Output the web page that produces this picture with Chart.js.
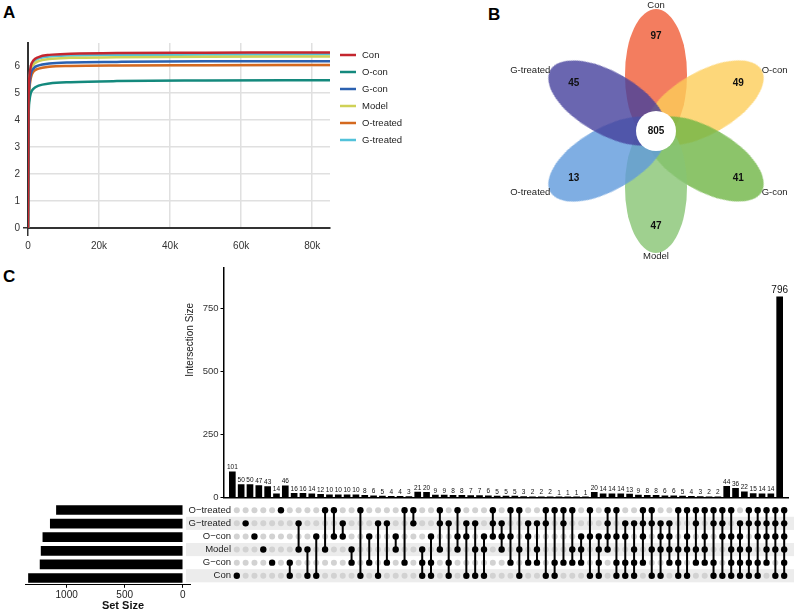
<!DOCTYPE html>
<html>
<head>
<meta charset="utf-8">
<script src="https://cdn.jsdelivr.net/npm/chart.js@4.4.1/dist/chart.umd.min.js"></script>
<style>
  html, body { margin: 0; padding: 0; background: #fff; }
  body { width: 794px; height: 612px; position: relative; overflow: hidden; font-family: "Liberation Sans", Arial, sans-serif; }
  canvas { position: absolute; }
  .tag { position: absolute; font-weight: bold; font-size: 17px; color: #000; line-height: 1; }
</style>
</head>
<body>
<div class="tag" style="left:3px;top:4px">A</div>
<div class="tag" style="left:488px;top:6px">B</div>
<div class="tag" style="left:3px;top:268px">C</div>

<canvas id="rare" style="left:0;top:30px" width="440" height="222"></canvas>
<canvas id="venn" style="left:486px;top:0" width="308" height="262"></canvas>
<canvas id="inter" style="left:150px;top:255px" width="644" height="250"></canvas>
<canvas id="matrix" style="left:150px;top:498px" width="644" height="90"></canvas>
<canvas id="setsize" style="left:0;top:495px" width="200" height="117"></canvas>

<script>
// ==============================
// A - RAREFACTION CURVES
// ==============================
const RARE_DEPTH = [0, 150, 400, 800, 1500, 3000, 6000, 12000, 25000, 50000, 85000];
const RARE_CON = [0, 4.6, 5.6, 6.0, 6.2, 6.33, 6.41, 6.45, 6.48, 6.49, 6.5];
const RARE_OCON = [0, 3.9, 4.7, 5.0, 5.15, 5.27, 5.35, 5.4, 5.44, 5.46, 5.47];
const RARE_GCON = [0, 4.3, 5.3, 5.7, 5.9, 6.02, 6.09, 6.13, 6.15, 6.17, 6.17];
const RARE_MODEL = [0, 4.4, 5.4, 5.85, 6.05, 6.18, 6.26, 6.3, 6.32, 6.34, 6.35];
const RARE_OTREATED = [0, 4.0, 5.1, 5.55, 5.78, 5.9, 5.97, 6.0, 6.02, 6.03, 6.04];
const RARE_GTREATED = [0, 4.5, 5.5, 5.95, 6.15, 6.28, 6.35, 6.39, 6.41, 6.42, 6.43];
const GROUPS = ["Con", "O-con", "G-con", "Model", "O-treated", "G-treated"];
const RARE_Y_TICKS = [0, 1, 2, 3, 4, 5, 6];
const RARE_X_TICKS = [0, 20000, 40000, 60000, 80000];

// ==============================
// B - FLOWER VENN
// ==============================
const VENN_SETS = ["Con", "O-con", "G-con", "Model", "O-treated", "G-treated"];
const VENN_UNIQUE = [97, 49, 41, 47, 13, 45];
const VENN_CORE = 805;
const VENN_ANGLE = [90, 30, -30, -90, -150, 150];

// ==============================
// C - UPSET
// ==============================
const SET_NAMES = ["O\u2212treated", "G\u2212treated", "O\u2212con", "Model", "G\u2212con", "Con"];
const SET_SIZE = [1088, 1141, 1205, 1220, 1229, 1329];
const SET_TICKS = [0, 500, 1000];
const INTER_TICKS = [0, 250, 500, 750];
const INTER_SIZE = [101, 50, 50, 47, 43, 14, 46, 16, 16, 14, 12, 10, 10, 10, 10, 8, 6, 5, 4, 4, 3,
  21, 20, 9, 9, 8, 8, 7, 7, 6, 5, 5, 5, 3, 2, 2, 2, 1, 1, 1, 1,
  20, 14, 14, 14, 13, 9, 8, 8, 6, 6, 5, 4, 3, 2, 2,
  44, 36, 22, 15, 14, 14, 796];
// row indexes into SET_NAMES for each intersection column
const INTER_SETS = [
  [5], [1], [2], [3], [4], [0],
  [4, 5], [1, 3], [3, 5], [2, 5], [0, 3], [0, 2], [1, 2], [3, 4], [0, 5], [2, 4], [1, 5], [1, 4], [2, 3], [0, 4], [0, 1],
  [3, 4, 5], [2, 4, 5], [0, 1, 3], [1, 4, 5], [0, 2, 3], [1, 2, 5], [1, 3, 5], [2, 3, 5], [0, 1, 2], [1, 2, 3],
  [0, 2, 4], [0, 3, 5], [1, 2, 4], [1, 3, 4], [0, 1, 5], [0, 4, 5], [0, 1, 4], [0, 3, 4], [2, 3, 4], [0, 2, 5],
  [2, 3, 4, 5], [0, 1, 2, 3], [0, 2, 4, 5], [1, 2, 4, 5], [1, 3, 4, 5], [0, 1, 2, 4], [0, 1, 3, 5], [1, 2, 3, 5],
  [1, 2, 3, 4], [0, 3, 4, 5], [0, 2, 3, 5], [0, 1, 3, 4], [0, 2, 3, 4], [0, 1, 4, 5], [0, 1, 2, 5],
  [0, 2, 3, 4, 5], [1, 2, 3, 4, 5], [0, 1, 3, 4, 5], [0, 1, 2, 4, 5], [0, 1, 2, 3, 4], [0, 1, 2, 3, 5],
  [0, 1, 2, 3, 4, 5]
];
const INTER_TITLE = "Intersection Size";
const SET_TITLE = "Set Size";

const FONT = '"Liberation Sans", Arial, sans-serif';
Chart.defaults.font.family = FONT;
Chart.defaults.animation = false;
Chart.defaults.responsive = false;
Chart.defaults.layout.autoPadding = false;
Chart.defaults.plugins.legend.display = false;
Chart.defaults.plugins.tooltip.enabled = false;

// ------------------------------
// A chart
// ------------------------------
const RARE_COLORS = ["#c4262e", "#14897d", "#2b61b0", "#cfd157", "#d4691f", "#52c2da"];
const RARE_SERIES = [RARE_CON, RARE_OCON, RARE_GCON, RARE_MODEL, RARE_OTREATED, RARE_GTREATED];

const sideLegend = {
  id: "sideLegend",
  afterDraw(chart) {
    const ctx = chart.ctx;
    const x = chart.chartArea.right + 10;
    ctx.save();
    ctx.font = "9.5px " + FONT;
    ctx.textBaseline = "middle";
    chart.data.datasets.forEach((ds, i) => {
      const y = 25 + i * 17;
      ctx.strokeStyle = ds.borderColor;
      ctx.lineWidth = 2.5;
      ctx.beginPath();
      ctx.moveTo(x, y);
      ctx.lineTo(x + 16, y);
      ctx.stroke();
      ctx.fillStyle = "#222";
      ctx.fillText(ds.label, x + 22, y);
    });
    ctx.restore();
  },
};

new Chart(document.getElementById("rare"), {
  type: "line",
  data: {
    datasets: RARE_SERIES.map((s, k) => ({
      label: GROUPS[k],
      data: RARE_DEPTH.map((d, i) => ({ x: d, y: s[i] })),
      borderColor: RARE_COLORS[k],
      borderWidth: 2.5,
      pointRadius: 0,
      cubicInterpolationMode: "monotone",
    })),
  },
  options: {
    layout: { padding: { left: 0, right: 110, top: 13, bottom: 0 } },
    scales: {
      x: {
        type: "linear",
        min: 0,
        max: 85000,
        afterBuildTicks: (s) => { s.ticks = RARE_X_TICKS.map((v) => ({ value: v })); },
        afterFit: (s) => { s.height = 24; },
        ticks: {
          font: { size: 10 },
          color: "#333",
          padding: 4,
          maxRotation: 0,
          callback: (v) => (v === 0 ? "0" : v / 1000 + "k"),
        },
        grid: {
          color: "#e0e0e0",
          lineWidth: 1.5,
          tickLength: 8,
          tickColor: (c) => (c.tick && c.tick.value === 0 ? "#333" : "rgba(0,0,0,0)"),
        },
        border: { color: "#333", width: 2 },
      },
      y: {
        min: 0,
        max: 6.85,
        afterBuildTicks: (s) => { s.ticks = RARE_Y_TICKS.map((v) => ({ value: v })); },
        afterFit: (s) => { s.width = 28; },
        ticks: { font: { size: 10 }, color: "#333", padding: 3 },
        grid: {
          color: "#e0e0e0",
          lineWidth: 1.5,
          tickLength: 5,
          tickColor: (c) => (c.tick && c.tick.value === 0 ? "#333" : "rgba(0,0,0,0)"),
        },
        border: { color: "#333", width: 2 },
      },
    },
  },
  plugins: [sideLegend],
});

// ------------------------------
// B chart
// ------------------------------
const VENN_COLORS = [
  "rgba(240,92,55,0.8)", "rgba(252,205,89,0.8)", "rgba(111,181,69,0.8)",
  "rgba(135,196,115,0.8)", "rgba(95,154,220,0.8)", "rgba(69,64,156,0.8)",
];
const PETAL_A = 66, PETAL_B = 31, PETAL_DIST = 56;

function petalImage(color) {
  const c = document.createElement("canvas");
  c.width = PETAL_A * 2 + 2;
  c.height = PETAL_B * 2 + 2;
  const g = c.getContext("2d");
  g.fillStyle = color;
  g.beginPath();
  g.ellipse(c.width / 2, c.height / 2, PETAL_A, PETAL_B, 0, 0, Math.PI * 2);
  g.fill();
  return c;
}

const vennText = {
  id: "vennText",
  afterDatasetsDraw(chart) {
    const ctx = chart.ctx;
    const xs = chart.scales.x, ys = chart.scales.y;
    ctx.save();
    ctx.textBaseline = "middle";
    VENN_SETS.forEach((name, i) => {
      const rad = (VENN_ANGLE[i] * Math.PI) / 180;
      const c = Math.cos(rad), s = Math.sin(rad);
      ctx.fillStyle = "#111";
      ctx.font = "bold 10px " + FONT;
      ctx.textAlign = "center";
      ctx.fillText(String(VENN_UNIQUE[i]), xs.getPixelForValue(c * 95), ys.getPixelForValue(s * 95));
      const vertical = Math.abs(c) < 0.1;
      const r = vertical ? 125.5 : 122;
      ctx.font = "9.5px " + FONT;
      ctx.fillStyle = "#222";
      ctx.textAlign = vertical ? "center" : c > 0 ? "left" : "right";
      ctx.fillText(name, xs.getPixelForValue(c * r), ys.getPixelForValue(s * r));
    });
    ctx.font = "bold 10px " + FONT;
    ctx.textAlign = "center";
    ctx.fillStyle = "#111";
    ctx.fillText(String(VENN_CORE), xs.getPixelForValue(0), ys.getPixelForValue(0));
    ctx.restore();
  },
};

new Chart(document.getElementById("venn"), {
  type: "scatter",
  data: {
    datasets: [
      {
        data: [{ x: 0, y: 0 }],
        pointStyle: "circle",
        pointRadius: 20,
        backgroundColor: "#fff",
        borderWidth: 0,
      },
      {
        data: VENN_ANGLE.map((a) => ({
          x: Math.cos((a * Math.PI) / 180) * PETAL_DIST,
          y: Math.sin((a * Math.PI) / 180) * PETAL_DIST,
        })),
        pointStyle: VENN_COLORS.map(petalImage),
        rotation: VENN_ANGLE.map((a) => -a),
        pointRadius: 3,
      },
    ],
  },
  options: {
    layout: { padding: 0 },
    scales: {
      x: { type: "linear", min: -170, max: 138, display: false },
      y: { type: "linear", min: -131, max: 131, display: false },
    },
  },
  plugins: [vennText],
});

// ------------------------------
// C - intersection size bars
// ------------------------------
const barLabels = {
  id: "barLabels",
  afterDatasetsDraw(chart) {
    const ctx = chart.ctx;
    const meta = chart.getDatasetMeta(0);
    ctx.save();
    ctx.fillStyle = "#111";
    ctx.textAlign = "center";
    ctx.textBaseline = "bottom";
    meta.data.forEach((bar, i) => {
      const v = INTER_SIZE[i];
      ctx.font = (v > 500 ? "10px " : "6.5px ") + FONT;
      ctx.fillText(String(v), bar.x, bar.y - 1);
    });
    // axis title, sits between the 500 and 750 ticks like the original
    const ys = chart.scales.y;
    ctx.translate(40, ys.getPixelForValue(625));
    ctx.rotate(-Math.PI / 2);
    ctx.font = "10px " + FONT;
    ctx.fillStyle = "#1a1a1a";
    ctx.textBaseline = "middle";
    ctx.fillText(INTER_TITLE, 0, 0);
    ctx.restore();
  },
};

new Chart(document.getElementById("inter"), {
  type: "bar",
  data: {
    datasets: [{
      data: INTER_SIZE.map((v, i) => ({ x: i + 1, y: v })),
      backgroundColor: "#000",
      barThickness: 6,
    }],
  },
  options: {
    layout: { padding: { left: 34, right: 5.5, top: 13, bottom: 4 } },
    scales: {
      x: {
        type: "linear",
        min: 0,
        max: 64,
        offset: false,
        ticks: { display: false },
        grid: { display: false, drawTicks: false },
        border: { color: "#000", width: 1.5 },
      },
      y: {
        min: 0,
        max: 910,
        afterBuildTicks: (s) => { s.ticks = INTER_TICKS.map((v) => ({ value: v })); },
        afterFit: (s) => { s.width = 39.5; },
        ticks: { font: { size: 9.5 }, color: "#333", padding: 2 },
        grid: { drawOnChartArea: false, tickLength: 3, color: "#000" },
        border: { color: "#000", width: 1.5 },
      },
    },
  },
  plugins: [barLabels],
});

// ------------------------------
// C - membership matrix
// ------------------------------
const blackDots = [], greyDots = [], links = [];
INTER_SETS.forEach((members, c) => {
  SET_NAMES.forEach((_, r) => {
    (members.includes(r) ? blackDots : greyDots).push({ x: c + 1, y: r });
  });
  links.push({ x: c + 1, y: Math.min(...members) }, { x: c + 1, y: Math.max(...members) }, { x: c + 1, y: null });
});

const stripes = {
  id: "stripes",
  beforeDraw(chart) {
    const ctx = chart.ctx;
    const ys = chart.scales.y;
    ctx.save();
    ctx.fillStyle = "#ececec";
    SET_NAMES.forEach((_, r) => {
      if (r % 2 === 1) {
        const top = ys.getPixelForValue(r - 0.5);
        const bot = ys.getPixelForValue(r + 0.5);
        ctx.fillRect(36, top, chart.width - 36, bot - top);
      }
    });
    ctx.restore();
  },
};

new Chart(document.getElementById("matrix"), {
  type: "scatter",
  data: {
    datasets: [
      { data: blackDots, pointRadius: 3.2, backgroundColor: "#000", borderWidth: 0 },
      { type: "line", data: links, borderColor: "#000", borderWidth: 2, pointRadius: 0, spanGaps: false },
      { data: greyDots, pointRadius: 3, backgroundColor: "#d2d2d2", borderWidth: 0 },
    ],
  },
  options: {
    layout: { padding: { left: 0, right: 1, top: 5.2, bottom: 3.2 } },
    scales: {
      x: { type: "linear", min: 0.343, max: 64, display: false },
      y: {
        type: "linear",
        min: -0.5,
        max: 5.5,
        reverse: true,
        afterBuildTicks: (s) => { s.ticks = SET_NAMES.map((_, r) => ({ value: r })); },
        afterFit: (s) => { s.width = 81; },
        ticks: { font: { size: 9.5 }, color: "#222", padding: 0, callback: (v) => SET_NAMES[v] },
        grid: { display: false, drawTicks: false },
        border: { display: false },
      },
    },
  },
  plugins: [stripes],
});

// ------------------------------
// C - set size bars
// ------------------------------
const setTitle = {
  id: "setTitle",
  afterDraw(chart) {
    const ctx = chart.ctx;
    ctx.save();
    ctx.font = "bold 11px " + FONT;
    ctx.fillStyle = "#111";
    ctx.textAlign = "center";
    ctx.textBaseline = "middle";
    ctx.fillText(SET_TITLE, 123, chart.height - 6);
    ctx.restore();
  },
};

new Chart(document.getElementById("setsize"), {
  type: "bar",
  data: {
    labels: SET_NAMES,
    datasets: [{ data: SET_SIZE, backgroundColor: "#000", barThickness: 9 }],
  },
  options: {
    indexAxis: "y",
    layout: { padding: { left: 25, right: 10, top: 8.2, bottom: 0 } },
    scales: {
      y: { display: false },
      x: {
        reverse: true,
        min: -63,
        max: 1359,
        afterBuildTicks: (s) => { s.ticks = SET_TICKS.map((v) => ({ value: v })); },
        afterFit: (s) => { s.height = 27.2; },
        ticks: { font: { size: 10 }, color: "#222", padding: 1, maxRotation: 0, callback: (v) => String(v) },
        grid: { drawOnChartArea: false, tickLength: 3, color: "#000" },
        border: { color: "#000", width: 1 },
      },
    },
  },
  plugins: [setTitle],
});
</script>
</body>
</html>
